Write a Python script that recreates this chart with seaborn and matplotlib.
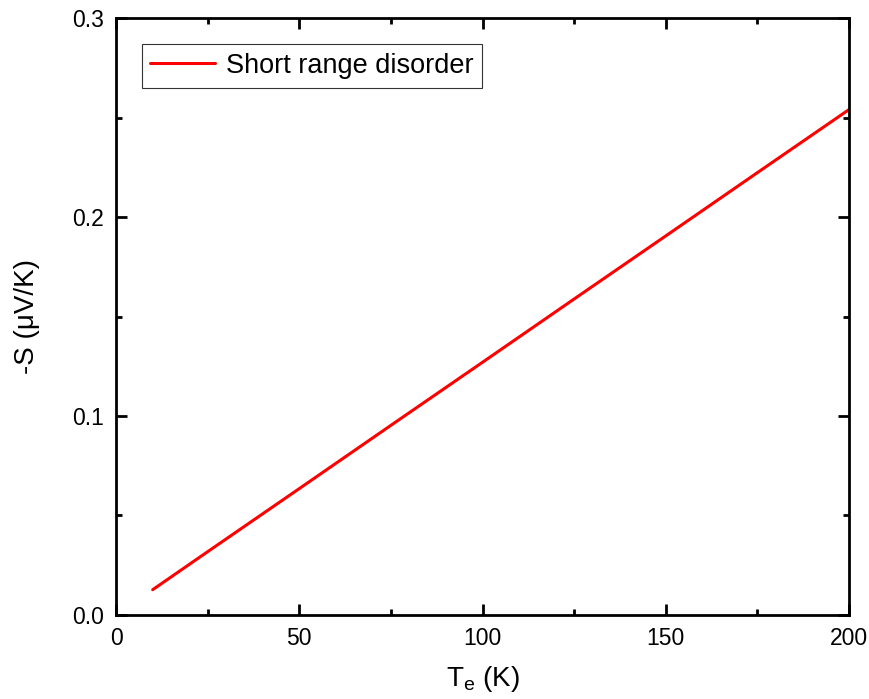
import numpy as np
import pandas as pd
import seaborn as sns
import matplotlib.pyplot as plt
from matplotlib.ticker import MultipleLocator

# dados (reta: -S cresce linearmente com Te)
temp_e = [10, 25, 50, 75, 100, 125, 150, 175, 200]
menos_s = [0.0127, 0.0318, 0.0635, 0.0953, 0.1270, 0.1588, 0.1905, 0.2223, 0.2540]
rotulo = 'Short range disorder'

df = pd.DataFrame({'Te': temp_e, 'S': menos_s, 'serie': rotulo})

sns.set_style('ticks')
plt.rcParams['font.family'] = ['Liberation Sans', 'DejaVu Sans']
plt.rcParams['mathtext.fontset'] = 'custom'
plt.rcParams['mathtext.rm'] = 'Liberation Sans'
plt.rcParams['text.color'] = 'black'
plt.rcParams['axes.labelcolor'] = 'black'

fig = plt.figure(figsize=(8.69, 6.99), dpi=100)
ax = fig.add_axes([0.1335, 0.1202, 0.8435, 0.854])

sns.lineplot(data=df, x='Te', y='S', hue='serie', palette=['#ff0000'],
             linewidth=2.2, ax=ax)

ax.set_xlim(0, 200)
ax.set_ylim(0, 0.3)
ax.xaxis.set_major_locator(MultipleLocator(50))
ax.xaxis.set_minor_locator(MultipleLocator(25))
ax.yaxis.set_major_locator(MultipleLocator(0.1))
ax.yaxis.set_minor_locator(MultipleLocator(0.05))
ax.yaxis.set_major_formatter(plt.FuncFormatter(lambda v, p: f'{v:.1f}'))

for s in ax.spines.values():
    s.set_linewidth(2.0)
    s.set_color('black')
ax.tick_params(which='both', direction='in', top=True, right=True, width=2.0,
               labelsize=16.5, colors='black', labelcolor='black')
ax.tick_params(which='major', length=8, pad=9)
ax.tick_params(which='minor', length=4.5)

ax.set_xlabel(r'T$_{\mathregular{e}}$ (K)', fontsize=20, labelpad=10)
ax.set_ylabel('-S (\u03bcV/K)', fontsize=20, labelpad=23)

leg = ax.legend(loc='upper left', bbox_to_anchor=(0.035, 0.956), fontsize=19.5, frameon=True,
                fancybox=False, edgecolor='black', handlelength=2.4, borderpad=0.32,
                handletextpad=0.4, borderaxespad=0, title=None)
leg.get_frame().set_linewidth(0.8)

fig.savefig('out.png', dpi=100)
